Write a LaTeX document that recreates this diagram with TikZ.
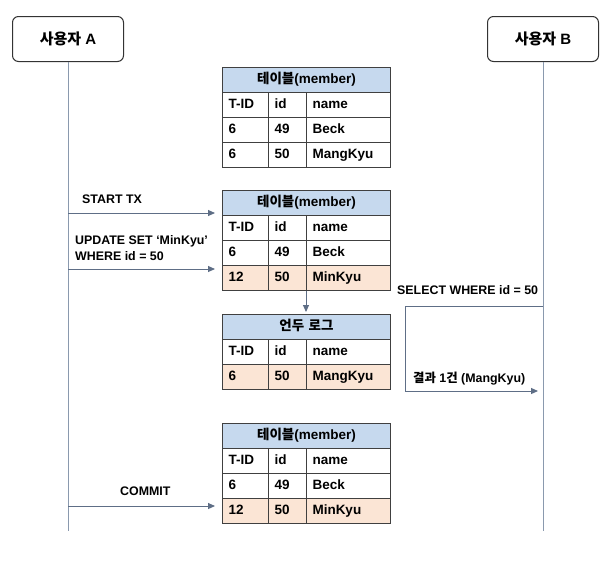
\documentclass[tikz,border=0pt]{standalone}
\usepackage{fontspec}
\setmainfont{Liberation Sans}
\newfontfamily\kr{Noto Sans CJK KR}
\usepackage{xcolor}
\usetikzlibrary{arrows.meta,positioning,calc}

\definecolor{hdrblue}{HTML}{C6D9EE}
\definecolor{rowpeach}{HTML}{FBE5D5}
\definecolor{msggray}{HTML}{5E6E86}
\definecolor{lifegray}{HTML}{8A99AE}

%% one member / undo table: name, top edge, header, data rows
\newcommand{\dbtable}[4]{%
  \node[hdrcell] (#1) at (222,#2) {#3};
  \foreach \tid/\id/\nm/\bg [count=\r] in {T-ID/id/name/white,#4}{
    \node[cell, fill=\bg, text width=34pt] (#1-\r-1) at (222,#2+25*\r) {\tid};
    \node[cell, fill=\bg, text width=26pt] (#1-\r-2) at (268,#2+25*\r) {\id};
    \node[cell, fill=\bg, text width=72pt] (#1-\r-3) at (306,#2+25*\r) {\nm};
  }%
}

\begin{document}
\begin{tikzpicture}[
  x=1pt, y=-1pt,
  user/.style={draw=black!80, line width=1pt, rounded corners=6pt,
    minimum width=111pt, minimum height=45pt,
    font=\fontsize{15}{17}\selectfont\bfseries},
  cell/.style={draw=black!75, line width=1pt, anchor=north west,
    minimum height=25pt, inner sep=0pt, inner xsep=6pt, align=left,
    text height=9.5pt, text depth=2.5pt,
    font=\fontsize{13.5}{15}\selectfont\bfseries},
  hdrcell/.style={cell, fill=hdrblue, align=center, text width=156pt},
  msg/.style={draw=msggray, line width=1pt, -{Triangle[length=7pt,width=6pt]}},
  life/.style={draw=lifegray, line width=0.9pt},
  lbl/.style={font=\fontsize{12.4}{16}\selectfont\bfseries, inner sep=0pt,
    anchor=base west, align=left},
]

\useasboundingbox[fill=white] (0,0) rectangle (615,566);

%% users and life lines
\node[user] (userA) at (68,39) {{\kr 사용자} A};
\node[user] (userB) at (543,39) {{\kr 사용자} B};
\draw[life] (userA.south) -- (userA.south |- 0,531);
\draw[life] (userB.south) -- (userB.south |- 0,531);

%% tables
\dbtable{t1}{67}{{\kr 테이블}(member)}{6/49/Beck/white, 6/50/MangKyu/white}
\dbtable{t2}{190}{{\kr 테이블}(member)}{6/49/Beck/white, 12/50/MinKyu/rowpeach}
\dbtable{t3}{314}{{\kr 언두 로그}}{6/50/MangKyu/rowpeach}
\dbtable{t4}{423}{{\kr 테이블}(member)}{6/49/Beck/white, 12/50/MinKyu/rowpeach}

%% user A messages
\node[lbl] (txlbl) at (82,203) {START TX};
\draw[msg] ([yshift=2pt]t2-1-1.north west -| userA.south)
  -- ([xshift=-7pt,yshift=2pt]t2-1-1.north west);

\node[lbl] (updlbl) at (75,260) {UPDATE SET ‘MinKyu’\\WHERE id = 50};
\draw[msg] ([yshift=-4pt]t2-3-1.north west -| userA.south)
  -- ([xshift=-7pt,yshift=-4pt]t2-3-1.north west);

%% undo copy
\draw[msg, shorten >=2pt] (t2-3-3.south west) -- (t3.north -| t2-3-3.south west);

\node[lbl] (cmtlbl) at (120,495) {COMMIT};
\draw[msg] ([yshift=-8pt]t4-3-1.north west -| userA.south)
  -- ([xshift=-7pt,yshift=-8pt]t4-3-1.north west);

%% user B read
\node[lbl] (sellbl) at (397,294) {SELECT WHERE id = 50};
\coordinate (selB) at (userB.south |- 0,306);
\coordinate (resB) at (userB.south |- 0,391);
\draw[msg] (selB) -- (405,306) -- (405,391) -- ([xshift=-5pt]resB);
\node[lbl] (reslbl) at (413,382) {{\kr 결과} 1{\kr 건} (MangKyu)};

\end{tikzpicture}
\end{document}
